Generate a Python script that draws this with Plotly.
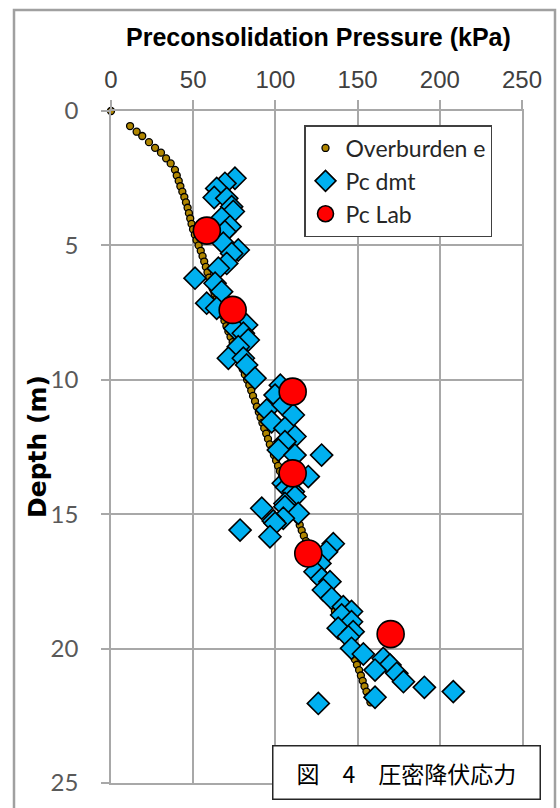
import plotly.graph_objects as go

# ---------------- data ----------------
overburden_depth = [0.0, 0.56, 0.77, 0.93, 1.16, 1.37, 1.55, 1.76, 1.95, 2.19, 2.4, 2.6, 2.8, 3.0,
                    3.2, 3.4, 3.6, 3.8, 4.0, 4.2, 4.4, 4.6, 4.8, 5.0, 5.2, 5.4, 5.6, 5.8, 6.0,
                    6.2, 6.4, 6.6, 6.8, 7.0, 7.2, 7.4, 7.6, 7.8, 8.0, 8.2, 8.4, 8.6, 8.8, 9.0,
                    9.2, 9.4, 9.6, 9.8, 10.0, 10.2, 10.4, 10.6, 10.8, 11.0, 11.2, 11.4, 11.6,
                    11.8, 12.0, 12.2, 12.4, 12.6, 12.8, 13.0, 13.2, 13.4, 13.6, 13.8, 14.0,
                    14.2, 14.4, 14.6, 14.8, 15.0, 15.2, 15.4, 15.6, 15.8, 16.0, 16.2, 16.4,
                    16.6, 16.8, 17.0, 17.2, 17.4, 17.6, 17.8, 18.0, 18.2, 18.4, 18.6, 18.8,
                    19.0, 19.2, 19.4, 19.6, 19.8, 20.0, 20.2, 20.4, 20.6, 20.8, 21.0, 21.2,
                    21.4, 21.6, 21.8, 22.0]
overburden_kpa = [0.0, 11.6, 15.6, 19.0, 23.1, 26.8, 30.4, 33.5, 36.3, 38.9, 40.0, 41.2, 42.2, 43.4,
                  44.6, 45.6, 46.6, 47.4, 48.2, 49.0, 49.9, 51.0, 52.0, 53.3, 54.6, 55.7, 56.7,
                  57.7, 58.7, 59.7, 60.7, 61.8, 63.0, 64.2, 65.4, 66.6, 67.8, 69.0, 70.2, 71.4,
                  72.7, 74.0, 75.2, 76.4, 77.6, 78.8, 80.1, 81.4, 82.8, 84.1, 85.3, 86.4, 87.6,
                  88.7, 89.9, 91.0, 92.1, 93.2, 94.4, 95.5, 96.6, 97.8, 99.1, 100.4, 101.6,
                  102.8, 104.0, 105.2, 106.4, 107.6, 108.8, 110.0, 111.2, 112.4, 113.6, 114.8,
                  116.0, 117.3, 118.6, 120.0, 121.3, 122.7, 124.0, 125.4, 126.7, 128.1, 129.4,
                  130.8, 132.1, 133.5, 134.8, 136.2, 137.5, 138.9, 140.2, 141.6, 142.9, 144.3,
                  145.6, 147.0, 148.3, 149.6, 150.9, 152.0, 153.1, 154.2, 155.4, 156.6, 157.8]

dmt_kpa = [75.4, 69.3, 64.3, 62.8, 70.4, 73.4, 74.4, 67.3, 72.4, 69.3, 68.3, 77.4, 73.4, 70.4,
           65.3, 51.1, 63.3, 67.3, 58.2, 64.3, 82.5, 75.4, 80.5, 83.5, 77.4, 71.4, 80.5, 82.5,
           87.6, 103.0, 99.8, 94.7, 104.8, 110.9, 97.7, 105.8, 111.9, 105.8, 101.8, 128.1,
           111.9, 120.0, 104.8, 106.8, 110.9, 111.9, 105.8, 91.7, 105.8, 113.9, 104.8, 98.7,
           99.8, 78.5, 96.7, 135.2, 131.1, 127.1, 124.1, 128.1, 133.2, 129.2, 134.2, 141.3,
           146.3, 140.3, 146.3, 138.2, 147.3, 144.4, 146.3, 153.5, 165.6, 169.7, 160.6, 173.8,
           177.9, 190.6, 208.2, 160.6, 126.1]
dmt_depth = [2.50, 2.69, 2.88, 3.22, 3.25, 3.56, 3.74, 3.99, 4.30, 4.49, 4.92, 5.17, 5.30, 5.67,
             5.85, 6.22, 6.41, 6.72, 7.15, 7.34, 7.96, 8.09, 8.27, 8.52, 8.77, 9.20, 9.20, 9.45,
             9.94, 10.20, 10.57, 11.12, 10.94, 11.31, 11.56, 11.80, 12.11, 12.30, 12.61, 12.80,
             12.80, 13.60, 13.85, 14.00, 14.16, 14.35, 14.60, 14.78, 14.72, 14.97, 15.15, 15.25,
             15.34, 15.59, 15.84, 16.10, 16.40, 16.83, 17.14, 17.40, 17.51, 17.82, 18.13, 18.44,
             18.62, 18.75, 19.00, 19.24, 19.37, 19.56, 19.99, 20.20, 20.37, 20.61, 20.80, 20.92,
             21.23, 21.44, 21.60, 21.81, 22.04]

lab_kpa = [58.3, 74.0, 110.5, 110.5, 120.0, 170.1]
lab_depth = [4.45, 7.40, 10.44, 13.48, 16.46, 19.46]

x_ticks = [0, 50, 100, 150, 200, 250]
y_ticks = [0, 5, 10, 15, 20, 25]

# ---------------- layout geometry (pixels) ----------------
W, H = 560, 808
L, R, T, B = 111, 522, 111, 783
PW, PH = R - L, B - T


def px(xp):
    return (xp - L) / PW


def py(yp):
    return 1 - (yp - T) / PH


fig = go.Figure()

fig.add_trace(go.Scatter(
    x=overburden_kpa, y=overburden_depth, mode="markers", name="Overburden e",
    cliponaxis=False,
    marker=dict(symbol="circle", size=7, color="#b08600", line=dict(color="#000000", width=1.3)),
))
fig.add_trace(go.Scatter(
    x=dmt_kpa, y=dmt_depth, mode="markers", name="Pc dmt",
    marker=dict(symbol="diamond", size=17, color="#00b0f0", line=dict(color="#000000", width=1.6)),
))
fig.add_trace(go.Scatter(
    x=lab_kpa, y=lab_depth, mode="markers", name="Pc Lab",
    marker=dict(symbol="circle", size=27, color="#ff0000", line=dict(color="#000000", width=1.6)),
))

grid = "#a8a8a8"
fig.update_layout(
    width=W, height=H,
    margin=dict(l=L, r=W - R, t=T, b=H - B, pad=0),
    paper_bgcolor="white", plot_bgcolor="white",
    showlegend=True,
    legend=dict(
        x=px(304), y=py(125), xanchor="left", yanchor="top",
        bordercolor="#404040", borderwidth=1.5, bgcolor="white",
        font=dict(family="Lato, Noto Sans, sans-serif", size=23, color="#262626"),
        itemsizing="trace",
    ),
    xaxis=dict(
        side="top", range=[0, 250], tickvals=x_ticks,
        showgrid=True, gridcolor=grid, gridwidth=1.5,
        showline=True, linecolor=grid, linewidth=1.5, mirror=True,
        ticks="outside", ticklen=9, tickcolor=grid, tickwidth=1.5,
        tickfont=dict(family="Liberation Sans, Arial", size=24, color="#404040"),
        ticklabelstandoff=3,
        zeroline=False,
    ),
    yaxis=dict(
        autorange=False, range=[25, 0], tickvals=y_ticks,
        showgrid=True, gridcolor=grid, gridwidth=1.5,
        showline=True, linecolor=grid, linewidth=1.5, mirror=True,
        ticks="outside", ticklen=8, tickcolor=grid, tickwidth=1.5,
        tickfont=dict(family="Lato, Noto Sans, sans-serif", size=24, color="#595959"),
        ticklabelstandoff=18,
        zeroline=False,
    ),
    annotations=[
        dict(text="<b>Preconsolidation Pressure (kPa)</b>", xref="paper", yref="paper",
             x=px(318), y=py(37), xanchor="center", yanchor="middle", showarrow=False,
             font=dict(family="Liberation Sans, Arial", size=25, color="#000000")),
        dict(text="<b>Depth (m)</b>", xref="paper", yref="paper",
             x=px(37), y=py(447), xanchor="center", yanchor="middle", showarrow=False,
             textangle=-90,
             font=dict(family="DejaVu Sans", size=25, color="#000000")),
        dict(text="図　4　圧密降伏応力", xref="paper", yref="paper",
             x=px(406), y=py(772), xanchor="center", yanchor="middle", showarrow=False,
             width=262, height=48, borderpad=2, bgcolor="white",
             bordercolor="#262626", borderwidth=1.5,
             font=dict(family="Noto Sans CJK JP", size=23, color="#000000")),
    ],
    shapes=[
        dict(type="rect", xref="paper", yref="paper",
             x0=px(14), x1=px(555), y0=py(830), y1=py(10),
             line=dict(color="#a0a0a0", width=2.5), fillcolor="rgba(0,0,0,0)", layer="below"),
    ],
)

fig.write_html("out.html")
